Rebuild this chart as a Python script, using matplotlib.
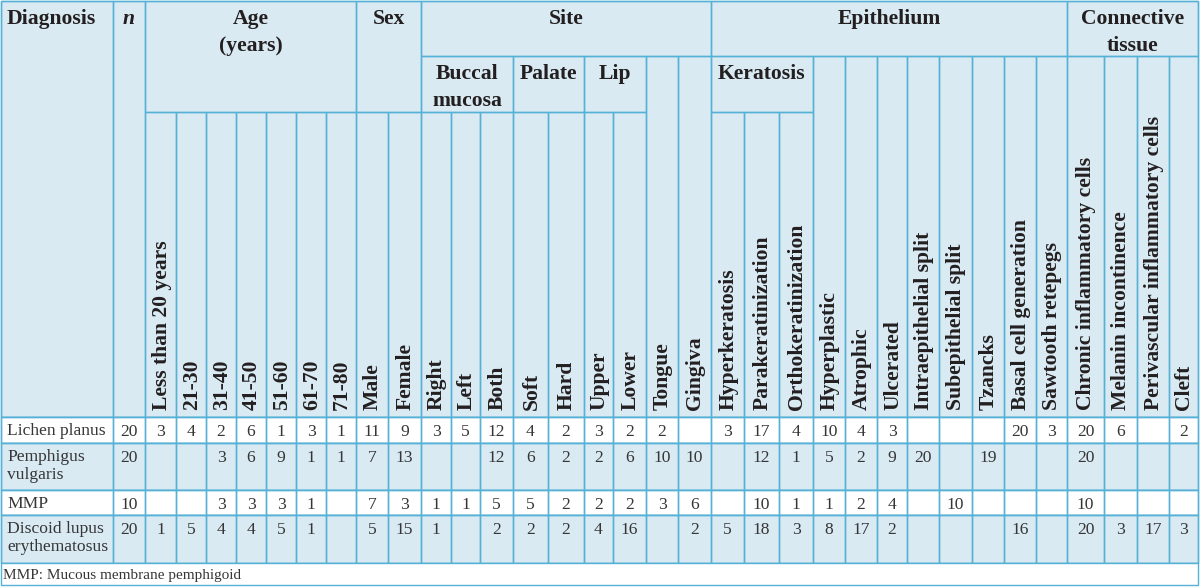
import matplotlib.pyplot as plt
from matplotlib.patches import Rectangle

# ---- table data ----
diagnoses = ['Lichen planus', 'Pemphigus\nvulgaris', 'MMP', 'Discoid lupus\nerythematosus']
n_cases = [20, 20, 10, 20]

age_labels = ['Less than 20 years', '21-30', '31-40', '41-50', '51-60', '61-70', '71-80']
age_counts = [[3, 4, 2, 6, 1, 3, 1],
              [None, None, 3, 6, 9, 1, 1],
              [None, None, 3, 3, 3, 1, None],
              [1, 5, 4, 4, 5, 1, None]]

sex_labels = ['Male', 'Female']
sex_counts = [[11, 9], [7, 13], [7, 3], [5, 15]]

site_labels = ['Right', 'Left', 'Both', 'Soft', 'Hard', 'Upper', 'Lower', 'Tongue', 'Gingiva']
site_counts = [[3, 5, 12, 4, 2, 3, 2, 2, None],
               [None, None, 12, 6, 2, 2, 6, 10, 10],
               [1, 1, 5, 5, 2, 2, 2, 3, 6],
               [1, None, 2, 2, 2, 4, 16, None, 2]]

epi_labels = ['Hyperkeratosis', 'Parakeratinization', 'Orthokeratinization', 'Hyperplastic',
              'Atrophic', 'Ulcerated', 'Intraepithelial split', 'Subepithelial split',
              'Tzancks', 'Basal cell generation', 'Sawtooth retepegs']
epi_counts = [[3, 17, 4, 10, 4, 3, None, None, None, 20, 3],
              [None, 12, 1, 5, 2, 9, 20, None, 19, None, None],
              [None, 10, 1, 1, 2, 4, None, 10, None, None, None],
              [5, 18, 3, 8, 17, 2, None, None, None, 16, None]]

ct_labels = ['Chronic inflammatory cells', 'Melanin incontinence',
             'Perivascular inflammatory cells', 'Cleft']
ct_counts = [[20, 6, None, 2],
             [20, None, None, None],
             [10, None, None, None],
             [20, 3, 17, 3]]

footnote = 'MMP: Mucous membrane pemphigoid'

# ---- layout (pixels) ----
col_edges = [1, 113, 145, 176, 206, 236, 266, 296, 326, 356, 388, 421, 451, 480, 513,
             548, 584, 613, 646, 678, 711, 744, 779, 813, 845, 877, 907, 939, 972,
             1004, 1036, 1067, 1104, 1137, 1169, 1198]
hdr_y = [1, 56, 112, 417]
row_edges = [417, 443, 490, 515, 563]
foot_bottom = 585

line_c = '#55b1d5'
hdr_bg = '#d9eaf3'
hdr_txt = '#231f20'
data_txt = '#363636'
row_bg = ['white', hdr_bg, 'white', hdr_bg]
serif = ['Liberation Serif', 'DejaVu Serif']
hfs = 15.6   # header font size
dfs = 12.6   # data font size

fig = plt.figure(figsize=(12, 5.87), dpi=100)
ax = fig.add_axes([0, 0, 1, 1])
ax.set_xlim(0, 1200)
ax.set_ylim(587, 0)
ax.axis('off')


def cell(x0, x1, y0, y1, fc='none'):
    ax.add_patch(Rectangle((x0, y0), x1 - x0, y1 - y0, facecolor=fc,
                           edgecolor=line_c, lw=1.0))


# header background
cell(col_edges[0], col_edges[-1], hdr_y[0], hdr_y[3], hdr_bg)

# group headers: label, first col, end col, top, bottom
groups = [('Diagnosis', 0, 1, hdr_y[0], hdr_y[3]),
          ('Age\n(years)', 2, 9, hdr_y[0], hdr_y[2]),
          ('Sex', 9, 11, hdr_y[0], hdr_y[2]),
          ('Site', 11, 20, hdr_y[0], hdr_y[1]),
          ('Buccal\nmucosa', 11, 14, hdr_y[1], hdr_y[2]),
          ('Palate', 14, 16, hdr_y[1], hdr_y[2]),
          ('Lip', 16, 18, hdr_y[1], hdr_y[2]),
          ('Epithelium', 20, 31, hdr_y[0], hdr_y[1]),
          ('Keratosis', 20, 23, hdr_y[1], hdr_y[2]),
          ('Connective\ntissue', 31, 35, hdr_y[0], hdr_y[1])]
for label, c0, c1, y0, y1 in groups:
    x0, x1 = col_edges[c0], col_edges[c1]
    cell(x0, x1, y0, y1)
    if label == 'Diagnosis':
        ax.text(x0 + 6, y0 + 8, label, ha='left', va='top', fontsize=hfs,
                fontweight='bold', family=serif, color=hdr_txt)
    else:
        ax.text((x0 + x1) / 2, y0 + 8, label, ha='center', va='top', fontsize=hfs,
                fontweight='bold', family=serif, color=hdr_txt, linespacing=1.45)

# n column
cell(col_edges[1], col_edges[2], hdr_y[0], hdr_y[3])
ax.text((col_edges[1] + col_edges[2]) / 2, hdr_y[0] + 8, 'n', ha='center', va='top',
        fontsize=hfs, fontweight='bold', style='italic', family=serif, color=hdr_txt)

# leaf headers (vertical)
leaf_labels = age_labels + sex_labels + site_labels + epi_labels + ct_labels
short_top = set(range(2, 18)) | {20, 21, 22}
for k, label in enumerate(leaf_labels):
    c = k + 2
    x0, x1 = col_edges[c], col_edges[c + 1]
    top = hdr_y[2] if c in short_top else hdr_y[1]
    cell(x0, x1, top, hdr_y[3])
    ax.text((x0 + x1) / 2 + 1, hdr_y[3] - 7, label, rotation=90, ha='center', va='bottom',
            fontsize=hfs, fontweight='bold', family=serif, color=hdr_txt)

# data rows
for r, name in enumerate(diagnoses):
    y0, y1 = row_edges[r], row_edges[r + 1]
    cell(col_edges[0], col_edges[-1], y0, y1, row_bg[r])
    values = [n_cases[r]] + age_counts[r] + sex_counts[r] + site_counts[r] + epi_counts[r] + ct_counts[r]
    cell(col_edges[0], col_edges[1], y0, y1)
    ax.text(col_edges[0] + 6, y0 + 6, name, ha='left', va='top', fontsize=dfs,
            family=serif, color=data_txt, linespacing=1.15)
    for k, v in enumerate(values):
        c = k + 1
        x0, x1 = col_edges[c], col_edges[c + 1]
        cell(x0, x1, y0, y1)
        if v is not None:
            ax.text((x0 + x1) / 2, y0 + 15, str(v), ha='center', va='center',
                    fontsize=dfs, family=serif, color=data_txt)

# footnote
cell(col_edges[0], col_edges[-1], row_edges[-1], foot_bottom, 'white')
ax.text(col_edges[0] + 2, (row_edges[-1] + foot_bottom) / 2 + 2, footnote, ha='left',
        va='center', fontsize=11, family=serif, color=data_txt)

fig.savefig('out.png', dpi=100)
